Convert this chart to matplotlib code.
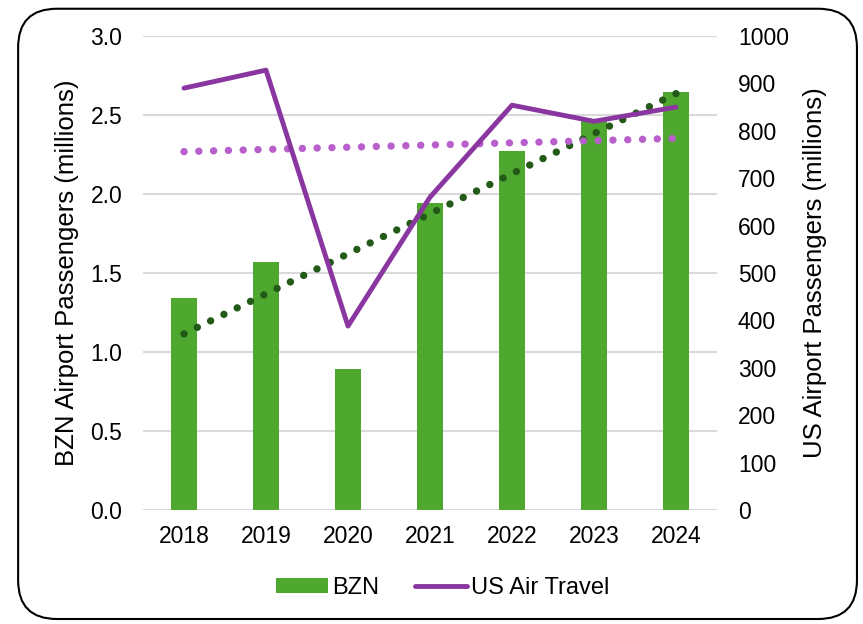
import numpy as np
import matplotlib
matplotlib.use("Agg")
import matplotlib.pyplot as plt
from matplotlib.patches import FancyBboxPatch, Patch
from matplotlib.lines import Line2D

plt.rcParams['font.family'] = ['Liberation Sans', 'DejaVu Sans']

years = ['2018', '2019', '2020', '2021', '2022', '2023', '2024']
bzn = [1.34, 1.57, 0.89, 1.94, 2.27, 2.47, 2.645]      # millions
us_air = [890, 928, 388, 660, 854, 820, 850]            # millions

bar_green = '#4ea72e'
purple = '#8a36a0'
pink = '#b85fcc'
dark_green = '#235a18'
fsize = 16.5
lsize = 18.5

x = np.arange(len(years))

fig = plt.figure(figsize=(8.63, 6.24), dpi=100)
# rounded frame round the whole chart
frame = FancyBboxPatch((0.021, 0.008), 0.972, 0.978,
                       boxstyle="round,pad=0,rounding_size=0.045",
                       transform=fig.transFigure, facecolor='white',
                       edgecolor='black', linewidth=1.5, zorder=-10,
                       mutation_aspect=863 / 624)
fig.patches.append(frame)

ax = fig.add_axes([0.1657, 0.1827, 0.6651, 0.7596])
ax.set_facecolor('none')
ax.bar(x, bzn, width=0.32, color=bar_green, zorder=2)

# linear trend lines
dots = (0, (0.01, 2.0))
p1 = np.polyfit(x, bzn, 1)
ax.plot(x, np.polyval(p1, x), linestyle=dots, dash_capstyle='round',
        color=dark_green, linewidth=5.3, zorder=4)

ax.set_ylim(0, 3.0)
ax.set_xlim(-0.5, 6.5)
ax.set_yticks(np.arange(0, 3.01, 0.5))
ax.set_yticklabels(['%.1f' % v for v in np.arange(0, 3.01, 0.5)])
ax.set_xticks(x)
ax.set_xticklabels(years)
ax.grid(axis='y', color='#d9d9d9', linewidth=1.5, zorder=0)
ax.set_axisbelow(True)
for s in ax.spines.values():
    s.set_visible(False)
ax.tick_params(length=0, labelsize=fsize, pad=15)
ax.tick_params(axis='x', pad=11)
ax.set_ylabel("BZN Airport Passengers (millions)", fontsize=lsize)
ax.yaxis.set_label_coords(-0.112, 0.5)

ax2 = ax.twinx()
p2 = np.polyfit(x, us_air, 1)
ax2.plot(x, np.polyval(p2, x), linestyle=dots, dash_capstyle='round',
         color=pink, linewidth=5.3, zorder=3)
ax2.plot(x, us_air, color=purple, linewidth=3.5, solid_capstyle='round', zorder=5)
ax2.set_ylim(0, 1000)
ax2.set_yticks(np.arange(0, 1001, 100))
for s in ax2.spines.values():
    s.set_visible(False)
ax2.tick_params(length=0, labelsize=fsize, pad=15)
ax2.set_ylabel("US Airport Passengers (millions)", fontsize=lsize)
ax2.yaxis.set_label_coords(1.15, 0.5)

handles = [Patch(facecolor=bar_green, edgecolor='none'),
           Line2D([0], [0], color=purple, linewidth=3.5, solid_capstyle='round')]
fig.legend(handles, ['BZN', 'US Air Travel'], loc='center', bbox_to_anchor=(0.513, 0.058),
           ncol=2, frameon=False, fontsize=17, handlelength=2.2, handleheight=0.6,
           columnspacing=1.5, handletextpad=0.2)

fig.savefig("out.png", dpi=100)
